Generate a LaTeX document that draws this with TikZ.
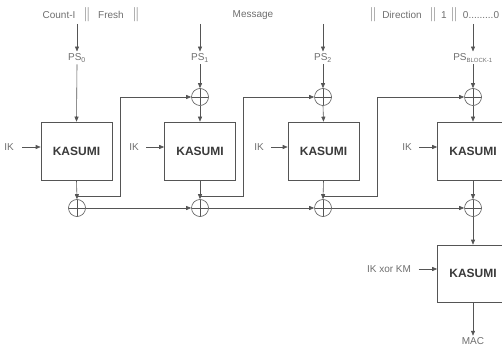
\documentclass[tikz,border=0pt]{standalone}
\usepackage{fontspec}
\setmainfont{Liberation Sans}
\usetikzlibrary{arrows.meta}
\definecolor{lncol}{HTML}{555555}
\definecolor{txcol}{HTML}{6E6E6E}
\definecolor{kcol}{HTML}{3A3A3A}
\begin{document}
\begin{tikzpicture}[x=1pt,y=-1pt,
  lbl/.style={text=txcol,font=\fontsize{10}{11}\selectfont,inner sep=1.5pt},
  bar/.style={text=txcol!75,font=\fontsize{15}{15}\selectfont\addfontfeatures{FakeStretch=0.6},inner sep=0pt},
  kbox/.style={draw=lncol,line width=0.6pt,minimum width=71pt,minimum height=58pt,
    text=kcol,font=\fontsize{12}{14}\selectfont\bfseries,inner sep=0pt},
  xor/.style={draw=lncol,line width=0.6pt,circle,minimum size=17pt,inner sep=0pt,
    path picture={\draw[lncol,line width=0.5pt]
      (path picture bounding box.north) -- (path picture bounding box.south)
      (path picture bounding box.west) -- (path picture bounding box.east);}},
  ln/.style={draw=lncol,line width=0.6pt},
  arr/.style={ln,-{Triangle[length=5pt,width=4pt]}}]
\useasboundingbox (0,0) rectangle (502,347);
\clip (0,0) rectangle (502,347);
% top text row
\node[lbl] (count) at (59,15) {Count-I};
\node[bar] (b1) at (87,15) {|\kern0.5pt|};
\node[lbl] (fresh) at (111,15) {Fresh};
\node[bar] (b2) at (136,15) {|\kern0.5pt|};
\node[lbl] (msg) at (253,15) {Message};
\node[bar] (b3) at (373,15) {|\kern0.5pt|};
\node[lbl] (dir) at (402,15) {Direction};
\node[bar] (b4) at (433,15) {|\kern0.5pt|};
\node[lbl] (one) at (444,15) {1};
\node[bar] (b5) at (454,15) {|\kern0.5pt|};
\node[lbl] (zeros) at (481,15) {0.........0};
% start coordinates of top arrows
\coordinate (t1) at (77,24);
\coordinate (t2) at (200,24);
\coordinate (t3) at (323,24);
\coordinate (t4) at (473,24);
% PS labels
\node[lbl,inner sep=2pt] (ps0) at (77,58) {PS\textsubscript{0}};
\node[lbl,inner sep=2pt] (ps1) at (200,58) {PS\textsubscript{1}};
\node[lbl,inner sep=2pt] (ps2) at (323,58) {PS\textsubscript{2}};
\node[lbl,inner sep=2pt] (ps3) at (473,58) {PS\textsubscript{\fontsize{6}{7}\selectfont BLOCK-1}};
% top xors
\node[xor] (x1) at (200,97) {};
\node[xor] (x2) at (323,97) {};
\node[xor] (x3) at (473,97) {};
% KASUMI boxes
\node[kbox] (k1) at (76.5,151) {KASUMI};
\node[kbox] (k2) at (200,151) {KASUMI};
\node[kbox] (k3) at (323.5,151) {KASUMI};
\node[kbox] (k4) at (473,151) {KASUMI};
\node[kbox,minimum height=57pt] (k5) at (473,273.5) {KASUMI};
% IK labels
\node[lbl] (ik1) at (9,147) {IK};
\node[lbl] (ik2) at (134,147) {IK};
\node[lbl] (ik3) at (259,147) {IK};
\node[lbl] (ik4) at (407,147) {IK};
\node[lbl] (ikm) at (389,269) {IK xor KM};
% bottom xors
\node[xor] (c1) at (77,208) {};
\node[xor] (c2) at (200,208) {};
\node[xor] (c3) at (323,208) {};
\node[xor] (c4) at (473,208) {};
% output
\node[lbl] (mac) at (473,341) {MAC};
% feedback corners
\coordinate (f1) at (120,196);
\coordinate (f2) at (243,196);
\coordinate (f3) at (377,196);
% top arrows
\draw[arr] (t1) -- (ps0.north);
\draw[arr] (t2) -- (ps1.north);
\draw[arr] (t3) -- (ps2.north);
\draw[arr] (t4) -- (ps3.north);
\draw[arr] (ps0.south) -- (k1.north);
\draw[arr] (ps1.south) -- (x1.north);
\draw[arr] (ps2.south) -- (x2.north);
\draw[arr] (ps3.south) -- (x3.north);
\draw[arr] (x1.south) -- (k2.north);
\draw[arr] (x2.south) -- (k3.north);
\draw[arr] (x3.south) -- (k4.north);
% IK arrows
\draw[arr] (ik1.east) ++(7,0) -- (k1.west |- ik1);
\draw[arr] (ik2.east) ++(6,0) -- (k2.west |- ik2);
\draw[arr] (ik3.east) ++(6,0) -- (k3.west |- ik3);
\draw[arr] (ik4.east) ++(6,0) -- (k4.west |- ik4);
\draw[arr] (ikm.east) ++(6,0) -- (k5.west |- ikm);
% box outputs
\draw[arr] (k1.south) -- (c1.north);
\draw[arr] (k2.south) -- (c2.north);
\draw[arr] (k3.south) -- (c3.north);
\draw[arr] (k4.south) -- (c4.north);
% feedback
\draw[arr] (k1.south |- f1) -- (f1) |- (x1.west);
\draw[arr] (k2.south |- f2) -- (f2) |- (x2.west);
\draw[arr] (k3.south |- f3) -- (f3) |- (x3.west);
% bottom chain
\draw[arr] (c1.east) -- (c2.west);
\draw[arr] (c2.east) -- (c3.west);
\draw[arr] (c3.east) -- (c4.west);
\draw[arr] (c4.south) -- (k5.north);
\draw[arr] (k5.south) -- (mac.north);
\end{tikzpicture}
\end{document}
